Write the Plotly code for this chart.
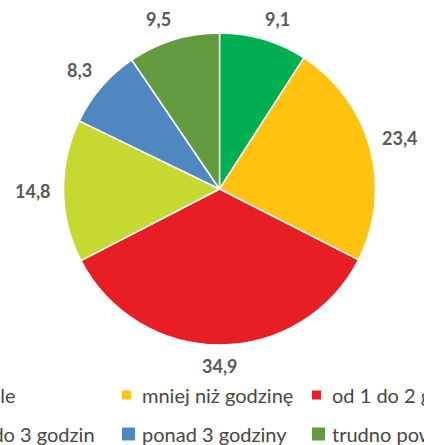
import math
import plotly.graph_objects as go

categories = ["w ogóle", "mniej niż godzinę", "od 1 do 2 godzin",
              "od 2 do 3 godzin", "ponad 3 godziny", "trudno powiedzieć"]
values = [9.1, 23.4, 34.9, 14.8, 8.3, 9.5]
colors = ["#00B050", "#FFC20E", "#E91E25", "#C5D930", "#4F88C0", "#619A3F"]

W, H = 424, 445
cx, cy, R = 219.5, 189.0, 156.0
R_LAB = 168  # label anchor radius (px)

fig = go.Figure()
fig.add_trace(go.Pie(
    labels=categories, values=values, sort=False,
    direction="clockwise", rotation=0,
    marker=dict(colors=colors, line=dict(color="white", width=1.5)),
    textinfo="none",
    domain=dict(x=[(cx - R) / W, (cx + R) / W],
                y=[1 - (cy + R) / H, 1 - (cy - R) / H]),
    showlegend=False, hoverinfo="label+value",
))

annotations = []

# value labels outside the slices, positioned from the slice mid-angles
LAB_SIZE = 18
lab_font = dict(family="Lato", size=LAB_SIZE, color="#595959", weight="bold")
total = sum(values)
cum = 0.0


def clamp(t):
    return max(-1.0, min(1.0, t))


for v in values:
    mid = (cum + v / 2) / total * 2 * math.pi
    cum += v
    ux, uy = math.sin(mid), -math.cos(mid)
    txt = f"{v:.1f}".replace(".", ",")
    w = 0.59 * LAB_SIZE * (len(txt) - 1) + 0.28 * LAB_SIZE
    h = LAB_SIZE
    ox = ux * R_LAB + w / 2 * clamp(3 * ux)
    oy = uy * R_LAB + h / 2 * clamp(3 * uy)
    annotations.append(dict(text=txt, x=(cx + ox) / W, y=1 - (cy + oy) / H,
                            xref="paper", yref="paper", xanchor="center",
                            yanchor="middle", showarrow=False, font=lab_font))

# manual legend (cut off at both sides like the reference)
leg_font = dict(family="Lato", size=20, color="#474747")
col_text_x = [-50, 140, 330]
rows_y = [395, 434]
sq = [9, 13]
order = [[0, 1, 2], [3, 4, 5]]
shapes = []
for r, row in enumerate(order):
    for c, idx in enumerate(row):
        tx = col_text_x[c]
        yc = rows_y[r]
        s = sq[r]
        if c > 0:
            shapes.append(dict(type="rect", xref="paper", yref="paper",
                               x0=(tx - 18) / W, x1=(tx - 18 + s) / W,
                               y0=1 - (yc + s / 2) / H, y1=1 - (yc - s / 2) / H,
                               fillcolor=colors[idx], line=dict(width=0)))
        if c == 0:
            end_x = 18 if r == 0 else 97
            annotations.append(dict(text=categories[idx], x=end_x / W, xanchor="right",
                                    y=1 - yc / H, yanchor="middle", xref="paper", yref="paper",
                                    showarrow=False, font=leg_font))
        else:
            annotations.append(dict(text=categories[idx], x=tx / W, xanchor="left",
                                    y=1 - yc / H, yanchor="middle", xref="paper", yref="paper",
                                    showarrow=False, font=leg_font))

fig.update_layout(
    width=W, height=H,
    margin=dict(l=0, r=0, t=0, b=0, autoexpand=False),
    paper_bgcolor="white",
    plot_bgcolor="white",
    shapes=shapes,
    annotations=annotations,
)

fig.write_html("out.html", config={"displayModeBar": False},
               post_script="document.body.style.margin='0px';")
